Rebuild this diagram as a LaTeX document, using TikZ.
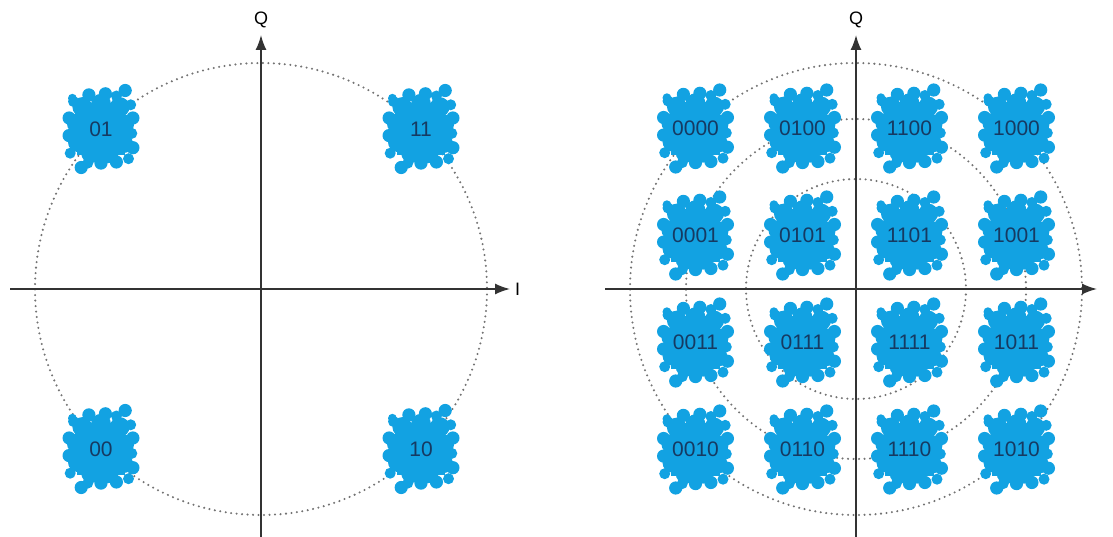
\documentclass[tikz,border=0pt]{standalone}
\usepackage{fontspec}
\setmainfont{Liberation Sans}
\usetikzlibrary{arrows.meta}

\definecolor{splatblue}{RGB}{18,162,226}
\definecolor{splatink}{RGB}{22,58,98}

\begin{document}
\begin{tikzpicture}[x=1pt, y=-1pt]
  \tikzset{
    ax/.style={draw=black!80, line width=1.6pt, -{Latex[length=15pt,width=11pt]}},
    ring/.style={draw=black!55, line width=2.3pt, line cap=round, dash pattern=on 0pt off 5.5pt},
    lbl/.style={font=\fontsize{21}{21}\selectfont, text=splatink, inner sep=0pt},
    axlbl/.style={font=\fontsize{18}{18}\selectfont, text=black, inner sep=0pt},
    splat/.pic={
      \fill[splatblue] (-22,-24) rectangle (22,24);
      \fill[splatblue] (0,0) circle (25);
      \foreach \dx/\dy/\r in {-17/-20/9, 0/-23/9, 17/-20/9, 21/-4/9, 20/13/9,
                              7/22/9, -9/22/9, -21/12/9, -22/-5/9,
                              -25/-25/5, -11/-31/6, 4/-32/6, 14/-30/5, 22/-35/6,
                              27/-22/5, 29/-10/6, 28/4/5, 29/17/6, 25/27/5,
                              14/30/6, 0/31/6, -12/31/5, -18/35/6,
                              -28/22/5, -29/6/6, -29/-10/6, -26/-28/4}
        \fill[splatblue] (\dx,\dy) circle (\r);
    }
  }
  \useasboundingbox (0,0) rectangle (1113,537);

  % left picture (4 points)
  \coordinate (lO) at (261,289);
  \coordinate (lW) at (10,289);
  \coordinate (lE) at (510,289);
  \coordinate (lS) at (261,537);
  \coordinate (lN) at (261,35);
  \draw[ring] (lO) circle (226);
  \draw[ax] (lW) -- (lE);
  \draw[ax] (lS) -- (lN);
  \node[axlbl] (lQ) at (261,20) {Q};
  \node[axlbl, anchor=west] (lI) at (515,289) {I};
  \foreach \px/\py/\code in {-160/-160/01, 160/-160/11, -160/160/00, 160/160/10} {
    \pic[scale=1.1] at ([shift={(\px,\py)}]lO) {splat};
    \node[lbl] (l\code) at ([shift={(\px,\py)}]lO) {\code};
  }

  % right picture (16 points)
  \coordinate (rO) at (856,289);
  \coordinate (rW) at (605,289);
  \coordinate (rE) at (1097,289);
  \coordinate (rS) at (856,537);
  \coordinate (rN) at (856,35);
  \draw[ring] (rO) circle (110);
  \draw[ring] (rO) circle (170);
  \draw[ring] (rO) circle (226);
  \draw[ax] (rW) -- (rE);
  \draw[ax] (rS) -- (rN);
  \node[axlbl] (rQ) at (856,20) {Q};
  \foreach \py/\row in {-160.5/{0000,0100,1100,1000}, -53.5/{0001,0101,1101,1001},
                        53.5/{0011,0111,1111,1011}, 160.5/{0010,0110,1110,1010}} {
    \foreach \code [count=\i] in \row {
      \pgfmathsetmacro{\px}{-267.5+107*\i}
      \pic[scale=1.1] at ([shift={(\px,\py)}]rO) {splat};
      \node[lbl] (r\code) at ([shift={(\px,\py)}]rO) {\code};
    }
  }
\end{tikzpicture}
\end{document}
